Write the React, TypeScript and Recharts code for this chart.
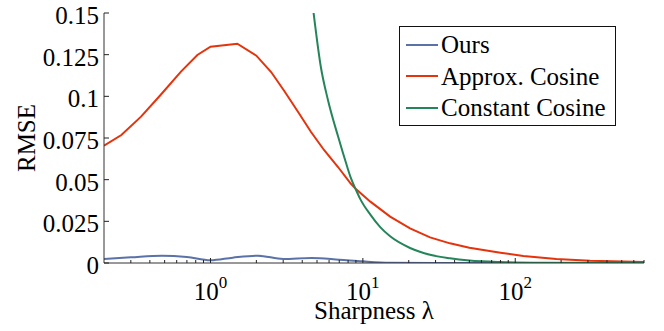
import { LineChart, Line, XAxis, YAxis, Legend, Label } from "recharts";

const FONT = '"Liberation Serif", "Times New Roman", Times, "DejaVu Serif", serif';

// sharpness range and RMSE ticks
const lambdaDomain = [0.2, 700];
const rmseDomain = [0, 0.15];
const rmseTicks = [0, 0.025, 0.05, 0.075, 0.1, 0.125, 0.15];
const rmseTickLabels = ["0", "0.025", "0.05", "0.075", "0.1", "0.125", "0.15"];
const majorLambdaTicks = [1, 10, 100];
const majorLambdaExponents = ["0", "1", "2"];
const minorLambdaTicks = [
  0.3, 0.4, 0.5, 0.6, 0.7, 0.8, 0.9,
  2, 3, 4, 5, 6, 7, 8, 9,
  20, 30, 40, 50, 60, 70, 80, 90,
  200, 300, 400, 500, 600, 700,
];

// Ours
const oursLambda = [0.2, 0.3, 0.48, 0.7, 1.0, 1.4, 2.05, 3.0, 4.6, 7, 10, 15, 30, 100, 700];
const oursRmse = [0.0024, 0.0034, 0.0044, 0.0036, 0.0016, 0.0032, 0.0044, 0.0024, 0.003, 0.002, 0.001, 0.0002, 0, 0, 0];

// Approx. Cosine
const approxLambda = [
  0.2, 0.26, 0.35, 0.47, 0.64, 0.82, 1, 1.5, 2, 2.5, 3.05, 3.76, 4.57, 5.56, 6.87,
  8.3, 9, 11.2, 15.1, 20.4, 27.6, 37.3, 50, 80, 113, 186, 310, 700,
];
const approxRmse = [
  0.0704, 0.0768, 0.0878, 0.1008, 0.1148, 0.1248, 0.1298, 0.1316, 0.1244, 0.1146,
  0.1032, 0.0906, 0.0786, 0.0678, 0.0576, 0.0478, 0.0444, 0.0368, 0.0278, 0.0208,
  0.0154, 0.0118, 0.0092, 0.0062, 0.0042, 0.0024, 0.0014, 0.0006,
];

// Constant Cosine
const constLambda = [4.75, 5.3, 5.9, 6.87, 7.9, 8.3, 9, 9.6, 11.2, 13, 15.1, 20.4, 27.6, 37.3, 50, 80, 150, 700];
const constRmse = [
  0.15, 0.1176, 0.0978, 0.076, 0.0576, 0.0515, 0.044, 0.0385, 0.029, 0.0215,
  0.016, 0.009, 0.0049, 0.0028, 0.0015, 0.0006, 0.0002, 0,
];

const zip = (xs: number[], ys: number[]) => xs.map((x, i) => ({ lambda: x, rmse: ys[i] }));

const series = [
  { name: "Ours", color: "#5a72a8", data: zip(oursLambda, oursRmse), type: "monotone" },
  { name: "Approx. Cosine", color: "#e5330c", data: zip(approxLambda, approxRmse), type: "linear" },
  { name: "Constant Cosine", color: "#24855a", data: zip(constLambda, constRmse), type: "monotone" },
];
const seriesOrder = series.map((s) => s.name);

const XTick = (props: any) => {
  const { x, y, payload } = props;
  const idx = majorLambdaTicks.indexOf(payload.value);
  if (idx < 0) {
    return <line x1={x} x2={x} y1={y} y2={y - 3} stroke="#222" strokeWidth={1} />;
  }
  return (
    <g>
      <line x1={x} x2={x} y1={y} y2={y - 5} stroke="#222" strokeWidth={1} />
      <text x={x} y={y + 37} textAnchor="middle" fontFamily={FONT} fontSize={25} fill="#000">
        <tspan>10</tspan>
        <tspan dy={-12} fontSize={17}>{majorLambdaExponents[idx]}</tspan>
      </text>
    </g>
  );
};

const YTick = (props: any) => {
  const { x, y, payload } = props;
  const idx = rmseTicks.indexOf(payload.value);
  return (
    <g>
      <line x1={x} x2={x + 5} y1={y} y2={y} stroke="#222" strokeWidth={1} />
      <text x={x - 5} y={y + 11} textAnchor="end" fontFamily={FONT} fontSize={25} fill="#000">
        {rmseTickLabels[idx]}
      </text>
    </g>
  );
};

const XTitle = (props: any) => {
  const { x, y, width, height } = props.viewBox;
  return (
    <text x={x + width / 2} y={y + height - 12} textAnchor="middle" fontFamily={FONT} fontSize={25} fill="#000">
      Sharpness λ
    </text>
  );
};

const YTitle = (props: any) => {
  const { x, y, height } = props.viewBox;
  const cx = x + 35;
  const cy = y + height / 2;
  return (
    <text
      x={cx}
      y={cy}
      transform={`rotate(-90 ${cx} ${cy})`}
      textAnchor="middle"
      fontFamily={FONT}
      fontSize={25}
      fill="#000"
    >
      RMSE
    </text>
  );
};

const LegendBox = (props: any) => {
  const items = [...(props.payload || [])].sort(
    (a: any, b: any) => seriesOrder.indexOf(a.value) - seriesOrder.indexOf(b.value)
  );
  return (
    <div
      style={{
        boxSizing: "border-box",
        width: 217,
        height: 100,
        border: "1px solid #111",
        background: "#fff",
        paddingTop: 2,
        fontFamily: FONT,
        fontSize: 25,
        color: "#000",
      }}
    >
      {items.map((item: any) => (
        <div key={item.value} style={{ display: "flex", alignItems: "center", height: 31.5 }}>
          <span
            style={{
              display: "inline-block",
              width: 32,
              height: 2,
              marginLeft: 6,
              marginRight: 3,
              background: item.color,
            }}
          />
          <span style={{ lineHeight: "31px", whiteSpace: "nowrap" }}>{item.value}</span>
        </div>
      ))}
    </div>
  );
};

export default function App() {
  return (
    <div style={{ position: "absolute", left: 0, top: 0, width: 664, height: 331, background: "#fff" }}>
      <LineChart width={664} height={331} margin={{ top: 13, right: 20, bottom: 0, left: 0 }}>
        <XAxis
          type="number"
          dataKey="lambda"
          scale="log"
          domain={lambdaDomain}
          allowDataOverflow
          ticks={[...minorLambdaTicks, ...majorLambdaTicks].sort((a, b) => a - b)}
          interval={0}
          tick={<XTick />}
          tickLine={false}
          tickSize={0}
          tickMargin={0}
          height={68}
          axisLine={{ stroke: "#333", strokeWidth: 1 }}
        >
          <Label content={XTitle} />
        </XAxis>
        <YAxis
          type="number"
          domain={rmseDomain}
          allowDataOverflow
          ticks={rmseTicks}
          interval={0}
          tick={<YTick />}
          tickLine={false}
          tickSize={0}
          tickMargin={0}
          width={104}
          axisLine={{ stroke: "#333", strokeWidth: 1 }}
        >
          <Label content={YTitle} />
        </YAxis>
        <Legend
          layout="horizontal"
          verticalAlign="middle"
          align="center"
          wrapperStyle={{ left: 399, top: 26, width: "auto", height: "auto" }}
          content={<LegendBox />}
        />
        {series.map((s) => (
          <Line
            key={s.name}
            data={s.data}
            dataKey="rmse"
            name={s.name}
            type={s.type as any}
            stroke={s.color}
            strokeWidth={2}
            dot={false}
            activeDot={false}
            isAnimationActive={false}
          />
        ))}
      </LineChart>
    </div>
  );
}
